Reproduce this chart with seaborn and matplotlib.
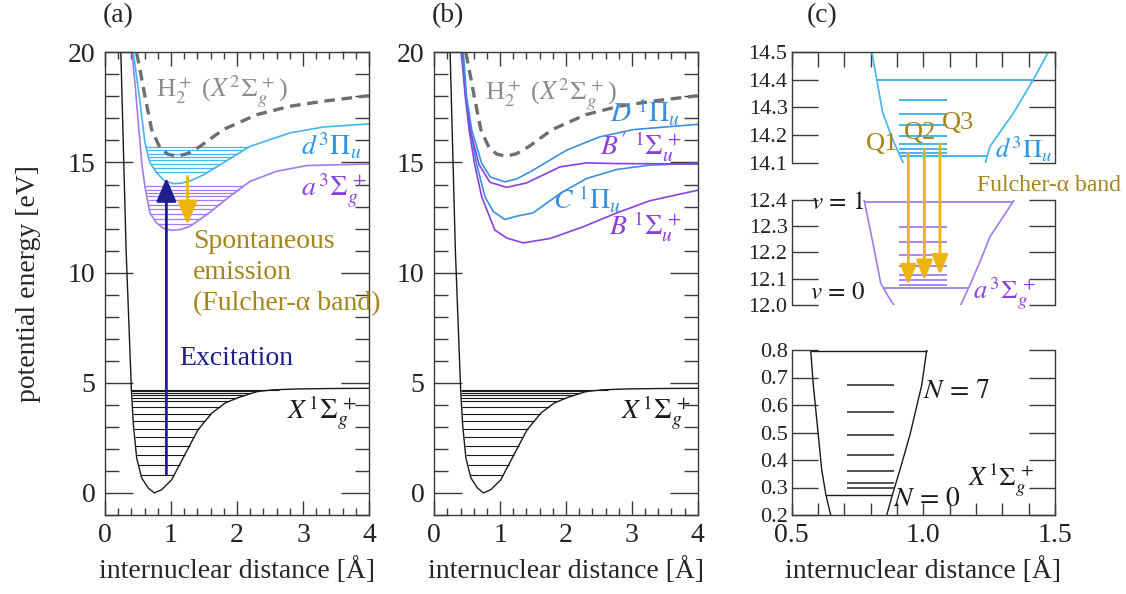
import numpy as np
import matplotlib
matplotlib.use("Agg")
import matplotlib.pyplot as plt
import seaborn as sns
from matplotlib.ticker import MultipleLocator, FormatStrFormatter
from matplotlib.patches import ConnectionPatch

# ---------------- potential curves (r in Å, E in eV) ----------------
# ground state X 1Σg+
X_r = [0.24, 0.32, 0.40, 0.43, 0.48, 0.556, 0.657, 0.747, 0.859, 1.01, 1.21,
       1.41, 1.62, 1.82, 2.02, 2.30, 2.55, 2.90, 3.40, 4.00]
X_E = [20.0, 11.0, 4.69, 3.10, 1.58, 0.68, 0.22, 0.0, 0.15, 0.60, 1.74,
       2.87, 3.63, 4.08, 4.33, 4.60, 4.68, 4.72, 4.74, 4.75]
X_levels = [0.83, 1.28, 1.71, 2.15, 2.52, 2.90, 3.25, 3.60, 3.90, 4.16,
            4.31, 4.43, 4.52, 4.61, 4.69]

# ion H2+ X 2Σg+
ion_r = [0.48, 0.55, 0.606, 0.707, 0.833, 0.95, 1.086, 1.25, 1.44, 1.79,
         2.30, 2.80, 3.31, 4.00]
ion_E = [19.97, 18.9, 18.0, 16.49, 15.66, 15.38, 15.28, 15.40, 15.73, 16.49,
         17.17, 17.55, 17.78, 18.03]

# d 3Πu
d_r = [0.43, 0.52, 0.606, 0.68, 0.783, 0.90, 1.035, 1.16, 1.288, 1.50, 1.79,
       2.197, 2.80, 3.31, 4.00]
d_E = [19.97, 18.0, 15.89, 15.0, 14.53, 14.17, 14.04, 14.06, 14.16, 14.45,
       14.98, 15.73, 16.34, 16.61, 16.75]
d_levels = [14.57, 14.76, 14.93, 15.10, 15.25, 15.40, 15.55, 15.70]

# a 3Σg+
a_r = [0.41, 0.46, 0.51, 0.56, 0.606, 0.68, 0.78, 0.88, 1.01, 1.15, 1.288,
       1.59, 1.89, 2.197, 2.60, 3.06, 4.00]
a_E = [19.97, 18.4, 16.6, 14.9, 13.88, 12.71, 12.26, 12.02, 11.92, 11.96,
       12.10, 12.74, 13.46, 14.14, 14.60, 14.86, 14.93]
a_levels = [12.21, 12.45, 12.68, 12.90, 13.09, 13.28, 13.46, 13.62, 13.77, 13.92]

# singlet states D, B', C, B
D_r = [0.44, 0.49, 0.57, 0.72, 0.85, 1.07, 1.25, 1.50, 2.01, 2.51, 3.02, 4.0]
D_E = [20.0, 18.0, 16.46, 14.96, 14.34, 14.12, 14.25, 14.65, 15.56, 16.16, 16.49, 16.73]
Bp_r = [0.43, 0.48, 0.55, 0.68, 0.845, 1.10, 1.40, 1.91, 2.31, 2.77, 4.0]
Bp_E = [20.0, 18.0, 16.4, 14.9, 14.1, 13.87, 14.07, 14.80, 14.98, 14.95, 14.93]
C_r = [0.42, 0.48, 0.55, 0.64, 0.77, 0.895, 1.07, 1.25, 1.50, 1.91, 2.31, 2.77, 3.27, 4.0]
C_E = [20.0, 18.0, 16.46, 14.96, 13.44, 12.78, 12.41, 12.56, 12.71, 13.59, 14.27,
       14.68, 14.88, 14.96]
B_r = [0.41, 0.47, 0.53, 0.61, 0.72, 0.92, 1.10, 1.35, 1.76, 2.26, 2.77, 3.27, 4.0]
B_E = [20.0, 18.0, 16.46, 14.96, 13.44, 11.93, 11.57, 11.35, 11.55, 12.08, 12.71,
       13.26, 13.74]

# transitions drawn in panel (a)
exc_r, exc_lo, exc_hi = 0.93, 0.83, 14.30
emi_r, emi_hi, emi_lo = 1.25, 14.37, 12.18

# ---------------- close-up of the Fulcher-α band ----------------
dc_left_r = [0.804, 0.823, 0.846, 0.886, 0.924]
dc_left_E = [14.50, 14.40, 14.28, 14.18, 14.10]
dc_right_r = [1.235, 1.253, 1.275, 1.342, 1.418, 1.475]
dc_right_E = [14.10, 14.16, 14.19, 14.28, 14.40, 14.50]
dc_vib = [14.127, 14.40]
dc_rot = [14.136, 14.150, 14.170, 14.199, 14.236, 14.276, 14.327]

ac_left_r = [0.775, 0.810, 0.838, 0.867, 0.892]
ac_left_E = [12.40, 12.229, 12.083, 12.032, 11.994]
ac_right_r = [1.139, 1.177, 1.215, 1.253, 1.345]
ac_right_E = [11.994, 12.076, 12.165, 12.26, 12.40]
ac_vib = [12.066, 12.394]
ac_rot = [12.077, 12.094, 12.115, 12.147, 12.190, 12.241, 12.298]

Xc_left_r = [0.572, 0.582, 0.601, 0.614, 0.630, 0.648]
Xc_left_E = [0.80, 0.673, 0.491, 0.364, 0.273, 0.20]
Xc_right_r = [0.861, 0.886, 0.911, 0.949, 0.994, 1.013]
Xc_right_E = [0.20, 0.285, 0.364, 0.491, 0.673, 0.80]
Xc_vib = [0.273, 0.797]
Xc_rot = [0.299, 0.318, 0.361, 0.418, 0.491, 0.576, 0.673]

Q_names = ["Q1", "Q2", "Q3"]
Q_r = [0.943, 1.004, 1.063]

# ---------------- style ----------------
sns.set_style("ticks")
plt.rcParams["font.family"] = ["Liberation Serif", "DejaVu Serif"]
plt.rcParams["mathtext.fontset"] = "stix"
plt.rcParams["axes.edgecolor"] = "#3a3a3a"
plt.rcParams["xtick.color"] = "#3a3a3a"
plt.rcParams["ytick.color"] = "#3a3a3a"
plt.rcParams["xtick.labelcolor"] = "#222222"
plt.rcParams["ytick.labelcolor"] = "#222222"

BLACK = "#1a1a1a"
GREY = "#6e6e6e"
GREY_T = "#8c8c8c"
CYAN = "#45b4ee"
CYAN_T = "#2f95e3"
LAV = "#a07cf0"
PURP = "#8a3fe3"
BLUE = "#3b8fe0"
NAVY = "#1e1e8c"
GOLD = "#efb30e"
GOLD_T = "#a5841a"

FS = 20
W, H = 1126, 594
fig = plt.figure(figsize=(W / 100, H / 100), dpi=100)


def box(x0, y0, x1, y1):
    return [x0 / W, 1 - y1 / H, (x1 - x0) / W, (y1 - y0) / H]


ax_a = fig.add_axes(box(105, 52.3, 369, 515))
ax_b = fig.add_axes(box(434.3, 52.3, 697.7, 515))
ax_c1 = fig.add_axes(box(791.7, 51.7, 1055, 163.3))
ax_c2 = fig.add_axes(box(791.7, 200, 1055, 305))
ax_c3 = fig.add_axes(box(791.7, 350, 1055, 515))


def curve(ax, r, E, color, lw=1.2, dashed=False):
    kw = dict(dashes=(3.2, 2.0)) if dashed else {}
    sns.lineplot(x=r, y=E, ax=ax, color=color, lw=lw, sort=False,
                 estimator=None, **kw)


def well_levels(ax, r, E, levels, color, lw=0.9):
    r = np.asarray(r, float)
    E = np.asarray(E, float)
    i0 = int(np.argmin(E))
    lr, lE = r[:i0 + 1][::-1], E[:i0 + 1][::-1]
    rr, rE = r[i0:], E[i0:]
    for e in levels:
        ax.hlines(e, np.interp(e, lE, lr), np.interp(e, rE, rr), color=color, lw=lw)


def wall_levels(ax, lr, lE, rr, rE, levels, color, lw=1.0):
    for e in levels:
        x0 = np.interp(e, lE[::-1], lr[::-1])
        x1 = np.interp(e, rE, rr)
        ax.hlines(e, x0, x1, color=color, lw=lw)


def style_ab(ax):
    ax.set_xlim(0, 4)
    ax.set_ylim(-1, 20)
    ax.xaxis.set_major_locator(MultipleLocator(1))
    ax.xaxis.set_minor_locator(MultipleLocator(0.2))
    ax.yaxis.set_major_locator(MultipleLocator(5))
    ax.yaxis.set_minor_locator(MultipleLocator(1))
    ax.tick_params(which="both", direction="in", top=True, right=True,
                   labelsize=FS, width=1.0)
    ax.tick_params(axis="y", which="major", length=20, pad=7)
    ax.tick_params(axis="y", which="minor", length=10)
    ax.tick_params(axis="x", which="major", length=10, pad=6)
    ax.tick_params(axis="x", which="minor", length=5)
    ax.set_xlabel("internuclear distance [Å]", fontsize=FS, labelpad=6)
    for s in ax.spines.values():
        s.set_linewidth(1.0)


# ---------------- panel (a) ----------------
ax = ax_a
style_ab(ax)
ax.set_ylabel("potential energy [eV]", fontsize=FS, labelpad=19)
well_levels(ax, X_r, X_E, X_levels, BLACK, lw=0.8)
well_levels(ax, a_r, a_E, a_levels, LAV, lw=0.9)
well_levels(ax, d_r, d_E, d_levels, CYAN, lw=0.9)
curve(ax, X_r, X_E, BLACK, lw=1.0)
curve(ax, a_r, a_E, LAV)
curve(ax, d_r, d_E, CYAN)
curve(ax, ion_r, ion_E, GREY, lw=2.4, dashed=True)
ax.annotate("", xy=(exc_r, exc_hi), xytext=(exc_r, exc_lo),
            arrowprops=dict(arrowstyle="-|>,head_length=0.9,head_width=0.38",
                            color=NAVY, lw=2.0, mutation_scale=16,
                            shrinkA=0, shrinkB=0))
ax.annotate("", xy=(emi_r, emi_lo), xytext=(emi_r, emi_hi),
            arrowprops=dict(arrowstyle="-|>,head_length=0.9,head_width=0.38",
                            color=GOLD, lw=2.0, mutation_scale=16,
                            shrinkA=0, shrinkB=0))
ION_LABEL = r"H$_2^+$ ($X\,^2\Sigma_g^{\,+}$)"
ax.text(0.78, 18.2, ION_LABEL, color=GREY_T, fontsize=19, va="center",
        ha="left")
ax.text(3.88, 15.72, r"$d\,^3\Pi_u$", color=CYAN_T, fontsize=FS, ha="right",
        va="center")
ax.text(3.97, 13.75, r"$a\,^3\Sigma_g^{\,+}$", color=PURP, fontsize=FS,
        ha="right", va="center")
ax.text(3.82, 3.63, r"$X\,^1\Sigma_g^{\,+}$", color=BLACK, fontsize=FS,
        ha="right", va="center")
ax.text(1.33, 10.0, "Spontaneous\nemission\n(Fulcher-α band)", color=GOLD_T,
        fontsize=FS, ha="left", va="center", linespacing=1.3, clip_on=False)
ax.text(1.12, 6.09, "Excitation", color=NAVY, fontsize=FS, ha="left",
        va="center")

# ---------------- panel (b) ----------------
ax = ax_b
style_ab(ax)
well_levels(ax, X_r, X_E, X_levels, BLACK, lw=0.8)
curve(ax, X_r, X_E, BLACK, lw=1.0)
curve(ax, B_r, B_E, PURP)
curve(ax, C_r, C_E, BLUE)
curve(ax, Bp_r, Bp_E, PURP)
curve(ax, D_r, D_E, BLUE)
curve(ax, ion_r, ion_E, GREY, lw=2.4, dashed=True)
ax.text(0.77, 18.08, ION_LABEL, color=GREY_T, fontsize=19, va="center",
        ha="left")
ax.text(3.73, 17.25, r"$D\ ^1\Pi_u$", color=BLUE, fontsize=FS, ha="right",
        va="center")
ax.text(3.76, 15.73, r"$B'\ ^1\Sigma_u^{\,+}$", color=PURP, fontsize=FS,
        ha="right", va="center")
ax.text(2.84, 13.31, r"$C\ ^1\Pi_u$", color=BLUE, fontsize=FS, ha="right",
        va="center")
ax.text(3.76, 12.1, r"$B\ ^1\Sigma_u^{\,+}$", color=PURP, fontsize=FS,
        ha="right", va="center")
ax.text(3.90, 3.63, r"$X\,^1\Sigma_g^{\,+}$", color=BLACK, fontsize=FS,
        ha="right", va="center")

# ---------------- panel (c) ----------------
ROT_A = (0.909, 1.089)
ROT_X = (0.709, 0.889)

for ax, lo, hi in ((ax_c1, 14.1, 14.5), (ax_c2, 12.0, 12.4), (ax_c3, 0.2, 0.8)):
    ax.set_xlim(0.5, 1.5)
    ax.set_ylim(lo, hi)
    ax.yaxis.set_major_locator(MultipleLocator(0.1))
    ax.yaxis.set_major_formatter(FormatStrFormatter("%.1f"))
    ax.tick_params(axis="y", which="both", direction="in", left=True,
                   right=True, length=19, labelsize=16, pad=3, width=1.0)
    for s in ax.spines.values():
        s.set_linewidth(1.0)

ax_c1.spines["bottom"].set_visible(False)
ax_c1.xaxis.set_minor_locator(MultipleLocator(0.1))
ax_c1.xaxis.set_major_locator(MultipleLocator(0.5))
ax_c1.tick_params(axis="x", which="both", direction="in", top=True,
                  bottom=False, labelbottom=False, length=11, width=1.0)

ax_c2.spines["bottom"].set_visible(False)
ax_c2.spines["top"].set_visible(False)
ax_c2.tick_params(axis="x", which="both", bottom=False, top=False,
                  labelbottom=False)

ax_c3.spines["top"].set_visible(False)
ax_c3.xaxis.set_major_locator(MultipleLocator(0.5))
ax_c3.xaxis.set_minor_locator(MultipleLocator(0.1))
ax_c3.xaxis.set_major_formatter(FormatStrFormatter("%.1f"))
ax_c3.tick_params(axis="x", which="both", direction="in", bottom=True,
                  top=False, length=9, labelsize=FS, pad=6, width=1.0)
ax_c3.set_xlabel("internuclear distance [Å]", fontsize=FS, labelpad=6)

# d 3Πu close-up
curve(ax_c1, dc_left_r, dc_left_E, CYAN)
curve(ax_c1, dc_right_r, dc_right_E, CYAN)
wall_levels(ax_c1, dc_left_r, dc_left_E, dc_right_r, dc_right_E, dc_vib, CYAN, lw=1.4)
ax_c1.hlines(dc_rot, *ROT_A, color=CYAN, lw=1.4)
ax_c1.text(1.49, 14.15, r"$d\,^3\Pi_u$", color=CYAN_T, fontsize=FS - 1,
           ha="right", va="center")

# a 3Σg+ close-up
curve(ax_c2, ac_left_r, ac_left_E, LAV)
curve(ax_c2, ac_right_r, ac_right_E, LAV)
wall_levels(ax_c2, ac_left_r, ac_left_E, ac_right_r, ac_right_E, ac_vib, LAV, lw=1.3)
ax_c2.hlines(ac_rot, *ROT_A, color=LAV, lw=1.3)
ax_c2.text(0.575, 12.388, r"$v\,=\,1$", fontsize=18, color=BLACK,
           ha="left", va="center")
ax_c2.text(0.57, 12.045, r"$v\,=\,0$", fontsize=18, color=BLACK,
           ha="left", va="center")
ax_c2.text(1.19, 12.045, r"$a\,^3\Sigma_g^{\,+}$", color=PURP, fontsize=FS - 1,
           ha="left", va="center", clip_on=False)

# Q-branch lines of the Fulcher-α band, drawn across the two close-ups
for name, rq, eu, el in zip(Q_names, Q_r, dc_rot, ac_rot):
    con = ConnectionPatch(xyA=(rq, eu), coordsA=ax_c1.transData,
                          xyB=(rq, el), coordsB=ax_c2.transData,
                          arrowstyle="-|>,head_length=1.1,head_width=0.45",
                          mutation_scale=11, color=GOLD, lw=2.0,
                          shrinkA=0, shrinkB=0)
    fig.add_artist(con)
ax_c1.text(0.842, 14.17, Q_names[0], color=GOLD_T, fontsize=FS - 1,
           ha="center", va="center")
ax_c1.text(0.987, 14.207, Q_names[1], color=GOLD_T, fontsize=FS - 1,
           ha="center", va="center")
ax_c1.text(1.13, 14.243, Q_names[2], color=GOLD_T, fontsize=FS - 1,
           ha="center", va="center")
ax_c1.text(1.204, 14.022, "Fulcher-α band", color=GOLD_T, fontsize=17,
           ha="left", va="center", clip_on=False)

# X 1Σg+ close-up
curve(ax_c3, Xc_left_r, Xc_left_E, BLACK, lw=1.0)
curve(ax_c3, Xc_right_r, Xc_right_E, BLACK, lw=1.0)
wall_levels(ax_c3, Xc_left_r, Xc_left_E, Xc_right_r, Xc_right_E, Xc_vib, BLACK, lw=1.0)
ax_c3.hlines(Xc_rot, *ROT_X, color="#444444", lw=1.3)
ax_c3.text(1.0, 0.648, r"$N\,=\,7$", fontsize=FS, color=BLACK, ha="left",
           va="center")
ax_c3.text(0.886, 0.255, r"$N\,=\,0$", fontsize=FS, color=BLACK, ha="left",
           va="center")
ax_c3.text(1.171, 0.327, r"$X\,^1\Sigma_g^{\,+}$", color=BLACK, fontsize=FS - 1,
           ha="left", va="center")

# panel tags
for x, tag in ((118, "(a)"), (448, "(b)"), (822, "(c)")):
    fig.text(x / W, 1 - 16 / H, tag, fontsize=FS, ha="center", va="center")

fig.savefig("out.png", dpi=100)
